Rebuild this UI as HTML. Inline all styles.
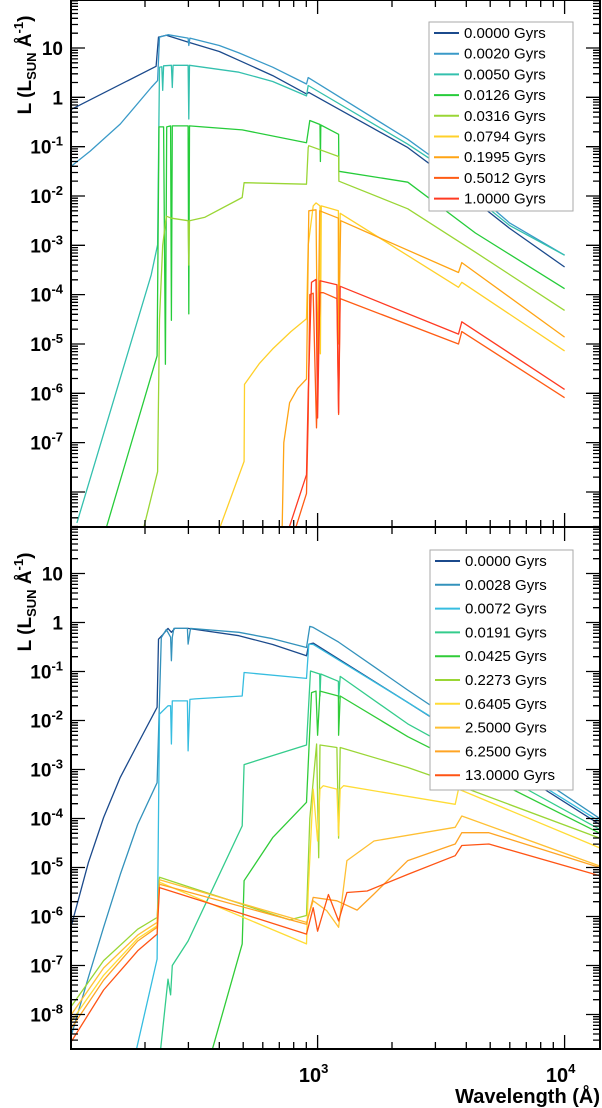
<!DOCTYPE html>
<html><head><meta charset="utf-8"><style>
body{margin:0;background:#fff}
svg{display:block;font-family:"Liberation Sans",sans-serif}
.tl{font-weight:bold;font-size:19px;text-anchor:end}
.lg{font-size:15px}
</style></head><body>
<svg id="chart" width="602" height="1108" viewBox="0 0 602 1108" xmlns="http://www.w3.org/2000/svg">
<g id="plots"></g>
<g id="frames"></g>
<g id="legends"></g>
</svg>
<script>
// ---- top panel data (wavelength in Å, log10 L) ----
const topAges=["0.0000","0.0020","0.0050","0.0126","0.0316","0.0794","0.1995","0.5012","1.0000"];
const topColors=["#1b4a8c","#3a9ac8","#34c0ae","#26cc3a","#9ad635","#ffd02a","#ffa414","#ff5c14","#ff3a22"];
const t0w=[101,222,227,244,299,400,480,658,902,921,2318,3176,4355,5970,10000];
const t0l=[-0.24,0.63,1.22,1.26,1.12,0.93,0.75,0.44,0.07,0.10,-1.02,-1.53,-2.11,-2.65,-3.44];
const t1w=[101,120,159,212,225,229,248,299,301,304,400,480,658,902,916,2318,3176,4355,6000,10000];
const t1l=[-1.39,-1.09,-0.54,0.2,0.34,1.22,1.27,1.2,1.05,1.2,1.05,0.9,0.61,0.27,0.4,-0.85,-1.35,-1.95,-2.55,-3.2];
const t2w=[106,212,225,229,234,236,238,256,258,260,299,301,303,480,658,902,916,2318,3176,4355,6000,10000];
const t2l=[-8.63,-3.6,-2.99,0.61,0.62,0.14,0.64,0.65,0.2,0.65,0.65,-0.44,0.65,0.51,0.32,0.03,0.24,-0.95,-1.4,-2.04,-2.6,-3.2];
const t3w=[138,224,228,238,242,245,254,256,258,299,301,303,495,902,930,1023,1026,1030,1216,1220,2318,4355,10000];
const t3l=[-8.8,-5.24,-0.6,-0.6,-5.41,-0.6,-0.58,-4.52,-0.58,-0.58,-4.39,-0.58,-0.66,-0.92,-0.47,-0.55,-1.3,-0.56,-0.75,-1.5,-1.72,-2.75,-3.88];
const t4w=[196,225,229,236,244,256,299,301,303,350,495,504,902,916,921,1216,1220,2318,4355,10000];
const t4l=[-8.8,-7.59,-4.5,-3.0,-2.41,-2.45,-2.5,-3.4,-2.5,-2.43,-2.03,-1.73,-1.76,-1.02,-0.98,-1.2,-1.7,-2.26,-3.14,-4.32];
const t5w=[397,504,506,580,658,780,902,916,960,985,1023,1026,1035,1214,1216,1235,3719,3836,10000];
const t5l=[-8.8,-7.38,-5.82,-5.4,-5.1,-4.75,-4.49,-3.0,-2.2,-2.14,-2.2,-5.2,-2.2,-2.3,-4.5,-2.35,-3.85,-3.75,-5.14];
const t6w=[718,730,770,830,902,921,985,1000,1020,1214,1216,1240,3719,3836,10000];
const t6l=[-8.8,-7.0,-6.19,-5.9,-5.71,-2.3,-2.28,-5.5,-2.3,-2.45,-5.0,-2.5,-3.55,-3.35,-4.86];
const t7w=[807,902,916,930,960,990,1023,1055,1197,1216,1235,3719,3836,10000];
const t7l=[-8.8,-8.03,-6.5,-4.0,-3.97,-6.7,-3.96,-3.96,-4.08,-6.43,-4.08,-5.0,-4.75,-6.09];
const t8w=[758,902,916,945,985,1000,1023,1197,1216,1235,3719,3836,10000];
const t8l=[-8.8,-7.65,-6.0,-3.75,-3.69,-6.5,-3.72,-3.8,-6.4,-3.83,-4.8,-4.55,-5.92];
// ---- bottom panel data ----
const botAges=["0.0000","0.0028","0.0072","0.0191","0.0425","0.2273","0.6405","2.5000","6.2500","13.0000"];
const botColors=["#1b4a8c","#3392bc","#36bde0","#34cc8c","#30cc38","#9ad635","#ffdc36","#ffc034","#ffa424","#ff5414"];
const b0w=[101,118,136,159,187,224,227,236,248,256,264,299,480,658,902,921,960,2318,13870];
const b0l=[-6.16,-4.9,-3.98,-3.16,-2.48,-1.73,-0.34,-0.25,-0.12,-0.2,-0.12,-0.12,-0.27,-0.45,-0.68,-0.44,-0.42,-1.63,-4.12];
const b1w=[101,118,136,159,187,224,233,244,254,256,258,262,297,299,304,306,480,658,902,930,960,1216,2318,13870];
const b1l=[-8.4,-7.24,-6.22,-5.14,-4.12,-3.27,-0.31,-0.14,-0.3,-0.78,-0.3,-0.12,-0.12,-0.44,-0.2,-0.12,-0.2,-0.33,-0.51,-0.08,-0.1,-0.4,-1.38,-4.0];
const b2w=[184,224,229,248,254,256,258,290,297,299,304,319,495,504,902,921,960,2318,13870];
const b2l=[-8.75,-6.87,-1.87,-1.7,-1.7,-2.48,-1.6,-1.6,-1.6,-2.62,-1.57,-1.56,-1.5,-1.02,-1.14,-0.44,-0.45,-1.63,-4.06];
const b3w=[231,248,254,258,299,495,504,902,936,1020,1023,1030,1214,1216,1235,2318,13870];
const b3l=[-8.75,-7.28,-7.6,-7.0,-6.5,-4.15,-2.9,-2.5,-0.99,-1.05,-1.5,-1.05,-1.2,-1.55,-1.1,-2.07,-4.22];
const b4w=[373,495,504,658,902,945,985,1000,1023,1214,1216,1235,2318,13870];
const b4l=[-8.75,-6.56,-5.27,-4.39,-3.67,-1.43,-1.4,-2.3,-1.4,-1.5,-2.3,-1.5,-2.33,-4.3];
const b5w=[101,136,187,224,229,495,770,902,930,991,1010,1023,1197,1216,1235,2318,3176,13870];
const b5l=[-7.82,-6.9,-6.26,-6.02,-5.2,-5.75,-6.07,-5.98,-4.0,-2.48,-4.8,-2.5,-2.55,-4.4,-2.55,-2.96,-3.2,-4.4];
const b6w=[101,136,187,224,229,902,916,960,1000,1023,1055,1197,1216,1235,1274,3606,3719,13870];
const b6l=[-8.13,-7.2,-6.45,-6.19,-5.3,-6.56,-5.5,-3.4,-4.46,-3.4,-3.33,-3.4,-4.35,-3.4,-3.33,-3.71,-3.4,-4.6];
const b7w=[101,136,187,224,229,902,960,1089,1216,1314,1692,3606,3836,13870];
const b7l=[-7.99,-7.05,-6.38,-6.12,-5.25,-6.12,-5.68,-5.88,-6.22,-4.86,-4.46,-4.18,-3.95,-4.97];
const b8w=[101,136,187,224,229,902,960,1197,1445,1692,2318,3606,3836,4939,13870];
const b8l=[-8.27,-7.3,-6.5,-6.22,-5.34,-6.16,-5.61,-5.68,-5.87,-5.54,-4.86,-4.52,-4.29,-4.29,-5.0];
const b9w=[101,136,187,224,229,902,960,1000,1106,1216,1314,1588,2318,3606,3836,4939,13870];
const b9l=[-8.54,-7.5,-6.7,-6.36,-5.41,-6.36,-5.82,-6.3,-5.55,-6.09,-5.51,-5.48,-5.14,-4.76,-4.55,-4.52,-5.17];
const topW=[t0w,t1w,t2w,t3w,t4w,t5w,t6w,t7w,t8w], topL=[t0l,t1l,t2l,t3l,t4l,t5l,t6l,t7l,t8l];
const botW=[b0w,b1w,b2w,b3w,b4w,b5w,b6w,b7w,b8w,b9w], botL=[b0l,b1l,b2l,b3l,b4l,b5l,b6l,b7l,b8l,b9l];
const topTicks=["10","1","10-1","10-2","10-3","10-4","10-5","10-6","10-7"];
const botTicks=["10","1","10-1","10-2","10-3","10-4","10-5","10-6","10-7","10-8"];

const NS="http://www.w3.org/2000/svg";
const X0=71,X1=600;
function xs(w){return 317.6+247*(Math.log10(w)-3);}
const panels=[{top:0,bot:527,y10:48,dec:49.33},{top:527,bot:1049,y10:573.5,dec:49.0}];
function ys(p,l){return p.y10+(1-l)*p.dec;}
function mk(tag,attrs,parent){const e=document.createElementNS(NS,tag);for(const k in attrs)e.setAttribute(k,attrs[k]);parent.appendChild(e);return e;}
const plots=document.getElementById('plots'),frames=document.getElementById('frames'),legs=document.getElementById('legends');
const defs=mk('defs',{},plots);
panels.forEach((p,i)=>{const c=mk('clipPath',{id:'cp'+i},defs);mk('rect',{x:X0,y:p.top,width:X1-X0,height:p.bot-p.top},c);});

function drawSeries(pi,W,L,colors,names){
  const p=panels[pi];
  const g=mk('g',{'clip-path':'url(#cp'+pi+')'},plots);
  W.forEach((w,k)=>{
    const pts=w.map((v,j)=>xs(v).toFixed(1)+','+ys(p,L[k][j]).toFixed(1)).join(' ');
    const pl=mk('polyline',{points:pts,fill:'none',stroke:colors[k],'stroke-width':1.3,'stroke-linejoin':'round'},g);
    
    
  });
}
drawSeries(0,topW,topL,topColors,topAges);
drawSeries(1,botW,botL,botColors,botAges);

function axes(pi,ticks){
  const p=panels[pi];
  const fr=mk('rect',{x:X0,y:p.top,width:X1-X0,height:p.bot-p.top,fill:'none',stroke:'#000','stroke-width':2},frames);
  
  
  let d='';
  for(let e=2;e>=-9;e--){for(let m=1;m<10;m++){const y=ys(p,e+Math.log10(m));if(y<p.top||y>p.bot)continue;const len=m==1?14:7;d+=`M${X0},${y.toFixed(1)}h${len}M${X1},${y.toFixed(1)}h${-len}`;}}
  for(let e=2;e<=4;e++){for(let m=1;m<10;m++){const w=m*Math.pow(10,e);const x=xs(w);if(x<=X0||x>=X1)continue;const len=m==1?14:7;d+=`M${x.toFixed(1)},${p.bot}v${-len}M${x.toFixed(1)},${p.top}v${len}`;}}
  mk('path',{d:d,stroke:'#000','stroke-width':1.3,fill:'none'},frames);
  ticks.forEach((t,i)=>{
    const y=ys(p,1-i)+7;
    const tx=mk('text',{x:63,y:y,class:'tl'},frames);
    
    
    if(t.startsWith('10-')){tx.textContent='10';const s=mk('tspan',{'font-size':13,dy:-8},tx);s.textContent='-'+t.slice(3);}
    else tx.textContent=t;
  });
  const yl=mk('text',{transform:`translate(31,${p.top+(pi?75:65)}) rotate(-90)`,'text-anchor':'middle','font-weight':'bold','font-size':19},frames);
  
  
  yl.innerHTML='L (L<tspan font-size="13" dy="5">SUN</tspan><tspan dy="-5"> Å</tspan><tspan font-size="13" dy="-8">-1</tspan><tspan dy="8">)</tspan>';
}
axes(0,topTicks);axes(1,botTicks);

function legend(x,y,w,h,rowH,ages,colors,name){
  const g=mk('g',{},legs);
  
  
  mk('rect',{x:x,y:y,width:w,height:h,fill:'#fff',stroke:'#aaa','stroke-width':1},g);
  ages.forEach((a,i)=>{
    const cy=y+11+rowH*i;
    const ln=mk('line',{x1:x+5,x2:x+30,y1:cy,y2:cy,stroke:colors[i],'stroke-width':2},g);
    
    
    const t=mk('text',{x:x+35,y:cy+5,class:'lg'},g);
    
    
    t.textContent=a+' Gyrs';
  });
}
legend(429,22,144,189,20.7,topAges,topColors,'top-legend');
legend(430,550,143,240,23.8,botAges,botColors,'bottom-legend');

const xl=[[1000,'3'],[10000,'4']];
xl.forEach(v=>{const t=mk('text',{x:xs(v[0])-4,y:1082,'text-anchor':'middle','font-weight':'bold','font-size':20},frames);
 
 
 t.innerHTML='10<tspan font-size="13" dy="-9">'+v[1]+'</tspan>';});
const xt=mk('text',{x:600,y:1103,'text-anchor':'end','font-weight':'bold','font-size':20},frames);


xt.textContent='Wavelength (Å)';
</script>
</body></html>
